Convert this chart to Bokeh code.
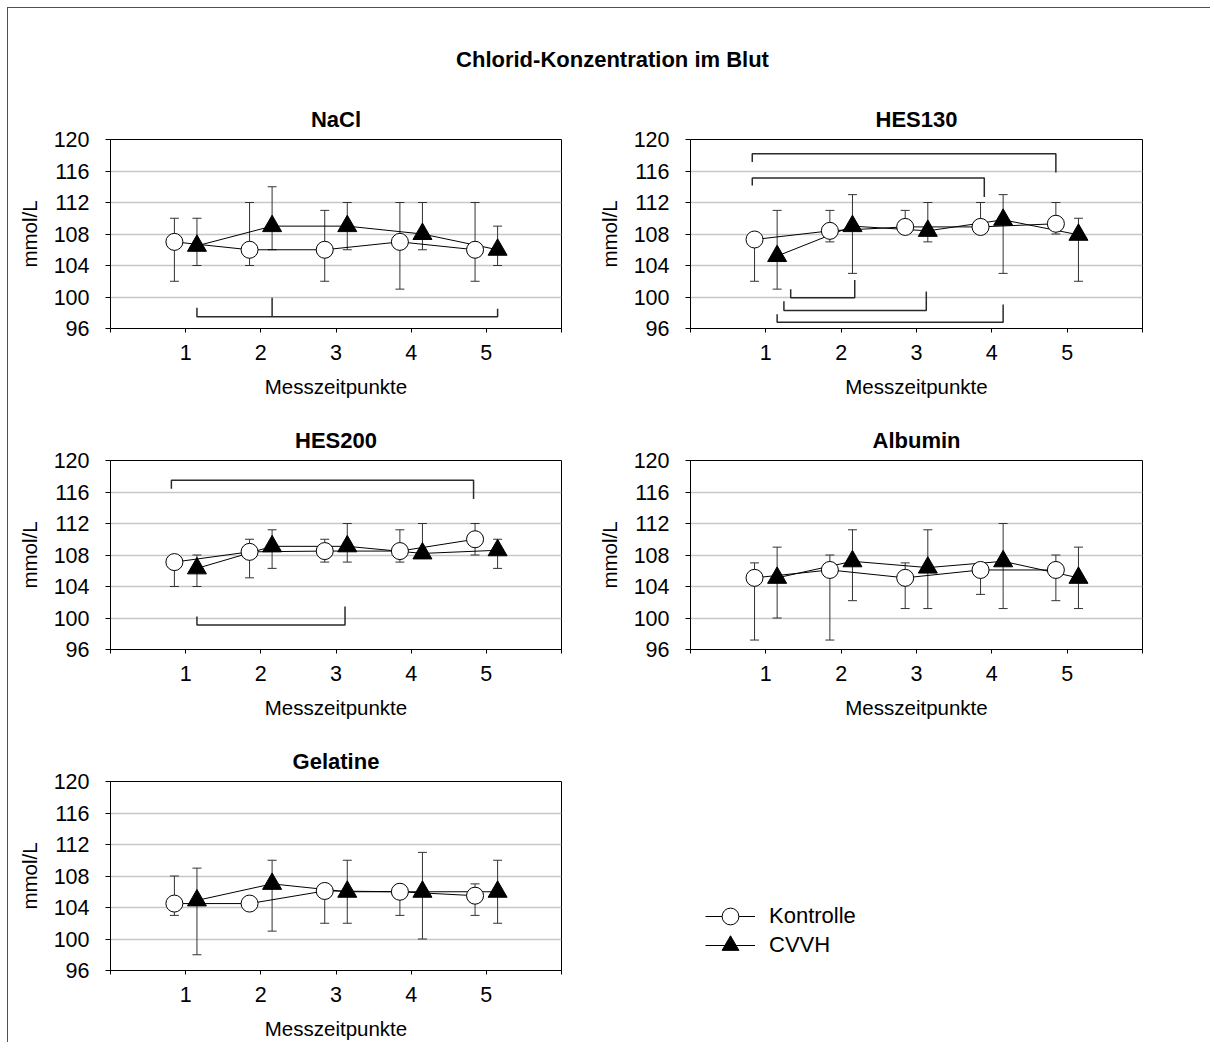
from bokeh.plotting import figure
from bokeh.layouts import column, row
from bokeh.models import (Range1d, Whisker, TeeHead, ColumnDataSource, FixedTicker,
                          Legend, LegendItem)
from bokeh.embed import file_html
from bokeh.resources import INLINE
from bokeh.core.properties import value

# ---------------- data ----------------
MAIN_TITLE = "Chlorid-Konzentration im Blut"
X_LABEL = "Messzeitpunkte"
Y_LABEL = "mmol/L"
TIMEPOINTS = [1, 2, 3, 4, 5]
X_TICKS = [0, 1, 2, 3, 4, 5, 6]
X_TICK_LABELS = {0: "", 1: "1", 2: "2", 3: "3", 4: "4", 5: "5", 6: ""}
Y_TICKS = [96, 100, 104, 108, 112, 116, 120]
SERIES = ["Kontrolle", "CVVH"]
GROUP_OFFSET = 0.15

panel_names = ["NaCl", "HES130", "HES200", "Albumin", "Gelatine"]

nacl_k_mean = [107.0, 106.0, 106.0, 107.0, 106.0]
nacl_k_upper = [110.0, 112.0, 111.0, 112.0, 112.0]
nacl_k_lower = [102.0, 104.0, 102.0, 101.0, 102.0]
nacl_c_mean = [106.5, 109.0, 109.0, 108.0, 106.0]
nacl_c_upper = [110.0, 114.0, 112.0, 112.0, 109.0]
nacl_c_lower = [104.0, 106.0, 106.0, 106.0, 104.0]

hes130_k_mean = [107.3, 108.4, 108.9, 108.9, 109.3]
hes130_k_upper = [108.0, 111.0, 111.0, 112.0, 112.0]
hes130_k_lower = [102.0, 107.0, 108.3, 108.3, 108.0]
hes130_c_mean = [105.2, 109.0, 108.4, 109.8, 107.9]
hes130_c_upper = [111.0, 113.0, 112.0, 113.0, 110.0]
hes130_c_lower = [101.0, 103.0, 107.0, 103.0, 102.0]

hes200_k_mean = [107.1, 108.4, 108.5, 108.5, 110.0]
hes200_k_upper = [107.8, 110.0, 110.0, 111.2, 112.0]
hes200_k_lower = [104.0, 105.1, 107.1, 107.1, 108.0]
hes200_c_mean = [106.3, 109.1, 109.1, 108.2, 108.6]
hes200_c_upper = [108.0, 111.2, 112.0, 112.0, 110.0]
hes200_c_lower = [104.0, 106.3, 107.1, 107.6, 106.3]

albumin_k_mean = [105.1, 106.1, 105.1, 106.1, 106.1]
albumin_k_upper = [107.0, 108.0, 107.0, 106.8, 108.0]
albumin_k_lower = [97.2, 97.2, 101.2, 103.0, 102.2]
albumin_c_mean = [105.1, 107.2, 106.4, 107.2, 105.1]
albumin_c_upper = [109.0, 111.2, 111.2, 112.0, 109.0]
albumin_c_lower = [100.0, 102.2, 101.2, 101.2, 101.2]

gelatine_k_mean = [104.5, 104.5, 106.1, 106.0, 105.5]
gelatine_k_upper = [108.0, 105.2, 106.8, 106.8, 107.0]
gelatine_k_lower = [103.0, 103.8, 102.0, 103.0, 103.0]
gelatine_c_mean = [104.9, 107.0, 106.0, 106.0, 106.0]
gelatine_c_upper = [109.0, 110.0, 110.0, 111.0, 110.0]
gelatine_c_lower = [98.0, 101.0, 102.0, 100.0, 102.0]

# significance brackets: (x_left, x_right, y_bar, y_left_end, y_right_end, [(x_stem, y_stem_end)])
nacl_brackets = [(1.15, 5.15, 97.5, 98.65, 98.5, [(2.15, 99.9)])]
hes130_brackets = [
    (0.82, 4.85, 118.2, 117.15, 115.8, []),
    (0.82, 3.90, 115.1, 114.15, 112.7, []),
    (1.33, 2.18, 99.9, 101.0, 102.15, []),
    (1.24, 3.13, 98.3, 99.45, 100.7, []),
    (1.15, 4.15, 96.8, 97.8, 99.05, []),
]
hes200_brackets = [
    (0.81, 4.83, 117.5, 116.4, 115.1, []),
    (1.15, 3.12, 99.1, 100.2, 101.45, []),
]
albumin_brackets = []
gelatine_brackets = []

panel_data = [
    (nacl_k_mean, nacl_k_upper, nacl_k_lower, nacl_c_mean, nacl_c_upper, nacl_c_lower, nacl_brackets),
    (hes130_k_mean, hes130_k_upper, hes130_k_lower, hes130_c_mean, hes130_c_upper, hes130_c_lower, hes130_brackets),
    (hes200_k_mean, hes200_k_upper, hes200_k_lower, hes200_c_mean, hes200_c_upper, hes200_c_lower, hes200_brackets),
    (albumin_k_mean, albumin_k_upper, albumin_k_lower, albumin_c_mean, albumin_c_upper, albumin_c_lower, albumin_brackets),
    (gelatine_k_mean, gelatine_k_upper, gelatine_k_lower, gelatine_c_mean, gelatine_c_upper, gelatine_c_lower, gelatine_brackets),
]

# ---------------- styling ----------------
FONT = "Liberation Sans"
TICK_FS = "21.5px"
LABEL_FS = "20.5px"
TITLE_FS = "22px"
BAR_COLOR = "#333333"
GRID_COLOR = "#c8c8c8"

LEFT_W, RIGHT_W, ROW_H, TITLE_H = 580, 622, 321, 71


def make_panel(name, data, right_col):
    km, ku, kl, cm, cu, cl, brackets = data
    p = figure(width=RIGHT_W if right_col else LEFT_W, height=ROW_H,
               x_range=Range1d(0, 6), y_range=Range1d(96, 120),
               output_backend="svg", toolbar_location=None, title=name,
               min_border_left=102, min_border_right=(RIGHT_W - 554) if right_col else 27,
               min_border_top=60, min_border_bottom=66)
    p.title.align = "center"
    p.title.text_font = FONT
    p.title.text_font_size = TITLE_FS
    p.title.text_font_style = "bold"
    p.title.text_color = "black"
    p.title.standoff = 15
    p.outline_line_color = "black"
    p.outline_line_width = 1
    p.background_fill_color = "white"
    p.border_fill_color = "white"

    p.xaxis.ticker = FixedTicker(ticks=X_TICKS)
    p.xaxis.major_label_overrides = X_TICK_LABELS
    p.yaxis.ticker = FixedTicker(ticks=Y_TICKS)
    for ax in (p.xaxis, p.yaxis):
        ax.axis_line_color = "black"
        ax.major_tick_line_color = "black"
        ax.minor_tick_line_color = None
        ax.major_tick_in = 0
        ax.major_label_text_font = FONT
        ax.major_label_text_font_size = TICK_FS
        ax.major_label_text_color = "black"
        ax.axis_label_text_font = FONT
        ax.axis_label_text_font_size = LABEL_FS
        ax.axis_label_text_font_style = "normal"
        ax.axis_label_text_color = "black"
    p.xaxis.major_tick_out = 4
    p.yaxis.major_tick_out = 5
    p.xaxis.major_label_standoff = 12
    p.yaxis.major_label_standoff = 16
    p.xaxis.axis_label = X_LABEL
    p.yaxis.axis_label = Y_LABEL
    p.xaxis.axis_label_standoff = 12
    p.yaxis.axis_label_standoff = 10

    p.xgrid.visible = False
    p.ygrid.grid_line_color = GRID_COLOR
    p.ygrid.grid_line_width = 1.5

    xk = [t - GROUP_OFFSET for t in TIMEPOINTS]
    xc = [t + GROUP_OFFSET for t in TIMEPOINTS]
    src_k = ColumnDataSource(dict(x=xk, y=km, upper=ku, lower=kl))
    src_c = ColumnDataSource(dict(x=xc, y=cm, upper=cu, lower=cl))

    for src in (src_k, src_c):
        w = Whisker(base="x", upper="upper", lower="lower", source=src, level="underlay",
                    line_color=BAR_COLOR, line_width=1,
                    upper_head=TeeHead(size=9, line_color=BAR_COLOR, line_width=1),
                    lower_head=TeeHead(size=9, line_color=BAR_COLOR, line_width=1))
        p.add_layout(w)

    bxs, bys = [], []
    for (x0, x1, yb, y0, y1, stems) in brackets:
        bxs.append([x0, x0, x1, x1])
        bys.append([y0, yb, yb, y1])
        for (xs_, ys_) in stems:
            bxs.append([xs_, xs_])
            bys.append([yb, ys_])
    if bxs:
        p.multi_line(xs=bxs, ys=bys, line_color="#2a2a2a", line_width=1.5)

    p.line(x="x", y="y", source=src_k, line_color="black", line_width=1)
    p.line(x="x", y="y", source=src_c, line_color="black", line_width=1)
    p.scatter(x="x", y="y", source=src_k, marker="circle", size=17,
              fill_color="white", line_color="black", line_width=1)
    p.scatter(x="x", y="y", source=src_c, marker="triangle", size=19,
              fill_color="black", line_color="black", line_width=1)
    return p


panels = [make_panel(n, d, i % 2 == 1) for i, (n, d) in enumerate(zip(panel_names, panel_data))]

# legend figure (legend proxies carry no visible data)
NAN = float("nan")
lf = figure(width=RIGHT_W, height=ROW_H, x_range=Range1d(0, 1), y_range=Range1d(0, 1),
            output_backend="svg", toolbar_location=None, min_border=0,
            x_axis_location=None, y_axis_location=None)
lf.outline_line_color = None
lf.grid.visible = False
rk_l = lf.line(x=[NAN], y=[NAN], line_color="black", line_width=1)
rk_s = lf.scatter(x=[NAN], y=[NAN], marker="circle", size=17, fill_color="white",
                  line_color="black", line_width=1)
rc_l = lf.line(x=[NAN], y=[NAN], line_color="black", line_width=1)
rc_s = lf.scatter(x=[NAN], y=[NAN], marker="triangle", size=19, fill_color="black",
                  line_color="black", line_width=1)
for lbl, rends, vy in ((SERIES[0], [rk_l, rk_s], 33), (SERIES[1], [rc_l, rc_s], 4)):
    lg = Legend(items=[LegendItem(label=value(lbl), renderers=rends)],
                location=(117, vy), glyph_width=50, glyph_height=42,
                padding=0, margin=0, label_standoff=14, label_text_font=FONT,
                label_text_font_size="22px", label_text_color="black",
                label_text_baseline="middle",
                border_line_color=None, background_fill_alpha=0)
    lf.add_layout(lg)

# main title figure
tf = figure(width=LEFT_W + RIGHT_W, height=TITLE_H, x_range=Range1d(0, 1), y_range=Range1d(TITLE_H, 0),
            output_backend="svg", toolbar_location=None, min_border=0,
            x_axis_location=None, y_axis_location=None)
tf.outline_line_color = None
tf.grid.visible = False
tf.text(x=[(612 - 8) / (LEFT_W + RIGHT_W)], y=[51], text=[MAIN_TITLE],
        text_font=value(FONT), text_font_size=TITLE_FS, text_font_style="bold",
        text_align="center", text_baseline="middle", text_color="black")

layout = column(tf, row(panels[0], panels[1]), row(panels[2], panels[3]), row(panels[4], lf),
                styles={"margin": "7px 0 0 7px",
                        "border-left": "1px solid #505050", "border-top": "1px solid #505050"})

open("out.html", "w").write(file_html(layout, INLINE))
